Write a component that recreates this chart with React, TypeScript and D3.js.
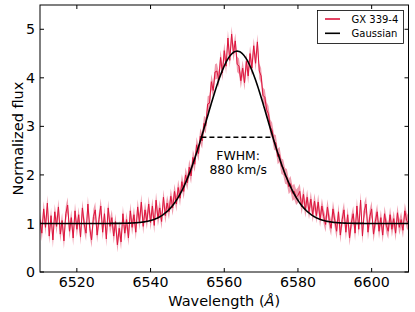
import React from 'react';
import * as d3 from 'd3';

// spectrum sampled every 0.5 A from 6510 to 6610
const waveStart = 6510;
const waveStep = 0.5;
const flux = [
  1.08, 0.80, 1.30, 0.92, 1.42, 0.74, 1.16, 0.66, 1.24, 0.94,
  1.34, 0.78, 1.06, 0.64, 1.20, 1.38, 0.84, 1.12, 0.70, 1.26,
  0.88, 1.18, 0.72, 1.32, 0.98, 0.80, 1.40, 0.90, 0.66, 1.14,
  1.28, 0.76, 1.08, 1.36, 0.82, 1.20, 0.68, 1.32, 0.94, 1.12,
  0.74, 1.04, 0.56, 0.90, 0.62, 1.20, 0.80, 1.08, 0.70, 1.26,
  0.92, 1.18, 0.82, 1.34, 1.02, 1.44, 0.94, 1.28, 1.04, 1.40,
  1.02, 1.36, 0.96, 1.48, 1.10, 1.32, 1.04, 1.54, 1.16, 1.42,
  1.24, 1.56, 1.32, 1.66, 1.40, 1.74, 1.52, 1.86, 1.66, 2.00,
  1.84, 2.16, 1.98, 2.36, 2.22, 2.62, 2.44, 2.80, 2.70, 3.06,
  3.02, 3.46, 3.48, 3.92, 3.74, 4.12, 4.14, 3.96, 4.42, 4.10,
  4.56, 4.24, 4.82, 4.36, 4.90, 4.50, 4.76, 4.28, 4.24, 3.94,
  4.20, 3.90, 4.34, 4.04, 4.50, 4.20, 4.66, 4.30, 4.74, 4.14,
  4.04, 3.64, 3.60, 3.34, 3.26, 2.98, 2.92, 2.68, 2.66, 2.38,
  2.42, 2.18, 2.16, 1.98, 1.96, 1.76, 1.82, 1.62, 1.66, 1.54,
  1.58, 1.66, 1.34, 1.60, 1.28, 1.54, 1.24, 1.50, 1.18, 1.46,
  1.16, 1.44, 1.08, 1.36, 1.14, 0.98, 1.34, 1.06, 0.90, 1.30,
  1.06, 0.84, 1.24, 0.76, 1.08, 1.28, 0.82, 1.18, 0.70, 1.02,
  1.20, 0.80, 1.36, 0.88, 1.48, 0.74, 1.26, 1.40, 0.82, 1.14,
  1.30, 0.78, 1.04, 1.24, 0.84, 1.12, 0.76, 1.20, 0.96, 0.84,
  1.18, 0.88, 1.10, 0.80, 1.22, 0.92, 1.08, 0.86, 1.26, 1.06,
  1.00,
];
const fluxError = 0.16;

// gaussian fit
const gaussCenter = 6563.5;
const gaussAmp = 3.55;
const gaussContinuum = 1;
const gaussFwhm = 19.4;

const xTicks = [6520, 6540, 6560, 6580, 6600];
const yTicks = [0, 1, 2, 3, 4, 5];
const seriesNames = ['GX 339-4', 'Gaussian'];
const fwhmLabel = ['FWHM:', '880 km/s'];

const W = 415;
const H = 312;
const margin = { left: 40, right: 6.5, top: 5, bottom: 40 };
const red = '#dc143c';
const font = 'DejaVu Sans, sans-serif';

export default function App() {
  const x = d3.scaleLinear().domain([6510, 6610]).range([margin.left, W - margin.right]);
  const y = d3.scaleLinear().domain([0, 5.5]).range([H - margin.bottom, margin.top]);

  const spec = flux.map((f, i) => ({ w: waveStart + i * waveStep, f }));

  const line = d3.line<{ w: number; f: number }>().x(d => x(d.w)).y(d => y(d.f));
  const band = d3.area<{ w: number; f: number }>()
    .x(d => x(d.w))
    .y0(d => y(d.f - fluxError))
    .y1(d => y(d.f + fluxError));

  const sigma = gaussFwhm / (2 * Math.sqrt(2 * Math.log(2)));
  const model = d3.range(6510, 6610.01, 0.25).map(w => ({
    w,
    f: gaussContinuum + gaussAmp * Math.exp(-((w - gaussCenter) ** 2) / (2 * sigma * sigma)),
  }));

  const halfMax = gaussContinuum + gaussAmp / 2;
  const [x0, x1] = x.range();
  const [yb, yt] = y.range();
  const tick = 4;

  return (
    <svg width={W} height={H} style={{ position: 'absolute', left: 0, top: 0 }} fontFamily={font}>
      <rect width={W} height={H} fill="#fff" />
      <defs>
        <clipPath id="plot">
          <rect x={x0} y={yt} width={x1 - x0} height={yb - yt} />
        </clipPath>
      </defs>
      <g clipPath="url(#plot)">
        <path d={band(spec) ?? ''} fill={red} opacity={0.42} />
        <path d={line(spec) ?? ''} fill="none" stroke={red} strokeWidth={1} />
        <path d={line(model) ?? ''} fill="none" stroke="#000" strokeWidth={1.6} />
        <line x1={x(gaussCenter - gaussFwhm / 2)} x2={x(gaussCenter + gaussFwhm / 2)}
          y1={y(halfMax)} y2={y(halfMax)} stroke="#000" strokeWidth={1.5} strokeDasharray="5,3" />
      </g>

      {xTicks.map(t => (
        <g key={t}>
          <line x1={x(t)} x2={x(t)} y1={yb} y2={yb - tick} stroke="#000" />
          <line x1={x(t)} x2={x(t)} y1={yt} y2={yt + tick} stroke="#000" />
          <text x={x(t)} y={287} textAnchor="middle" fontSize={14.2}>{t}</text>
        </g>
      ))}
      {yTicks.map(t => (
        <g key={t}>
          <line x1={x0} x2={x0 + tick} y1={y(t)} y2={y(t)} stroke="#000" />
          <line x1={x1} x2={x1 - tick} y1={y(t)} y2={y(t)} stroke="#000" />
          <text x={35} y={y(t)} dy="0.36em" textAnchor="end" fontSize={14.2}>{t}</text>
        </g>
      ))}
      <rect x={x0} y={yt} width={x1 - x0} height={yb - yt} fill="none" stroke="#000" strokeWidth={1} />

      <text x={(x0 + x1) / 2} y={306} textAnchor="middle" fontSize={14.5}>
        Wavelength (<tspan fontStyle="italic">Å</tspan>)
      </text>
      <text transform={`translate(22.5,${(yt + yb) / 2}) rotate(-90)`} textAnchor="middle" fontSize={14.5}>
        Normalized flux
      </text>

      <text x={x(gaussCenter) + 1} y={160} textAnchor="middle" fontSize={12.4}>{fwhmLabel[0]}</text>
      <text x={x(gaussCenter) + 1} y={173.5} textAnchor="middle" fontSize={12.4}>{fwhmLabel[1]}</text>

      <g>
        <rect x={317.5} y={10.5} width={86} height={33} fill="#fff" stroke="#000" strokeWidth={0.8} />
        {seriesNames.map((name, i) => (
          <g key={name} transform={`translate(0,${19 + i * 14.3})`}>
            <line x1={325} x2={340} y1={0} y2={0} stroke={i === 0 ? red : '#000'} strokeWidth={1.6} />
            <text x={351.5} y={0} dy="0.35em" fontSize={10}>{name}</text>
          </g>
        ))}
      </g>
    </svg>
  );
}
